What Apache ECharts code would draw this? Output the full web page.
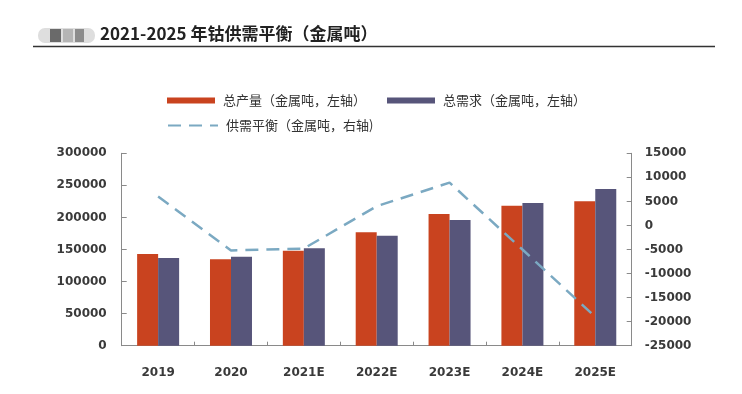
<!DOCTYPE html>
<html><head><meta charset="utf-8">
<script src="https://cdn.jsdelivr.net/npm/echarts@6/dist/echarts.min.js"></script>
<style>html,body{margin:0;padding:0;background:#fff}#c{width:742px;height:394px}</style>
</head><body><div id="c"></div>
<script>
const categories = ['2019','2020','2021E','2022E','2023E','2024E','2025E'];
const production = [143000, 134700, 148100, 176800, 205400, 218300, 225200];
const demand = [136700, 138800, 151900, 171500, 196000, 222500, 244300];
const balance = [6000, -5200, -4800, 4000, 8900, -5000, -19000];
const leftTicks = {min: 0, max: 300000, interval: 50000};
const rightTicks = {min: -25000, max: 15000, interval: 5000};
const names = ['总产量（金属吨，左轴）', '总需求（金属吨，左轴）', '供需平衡（金属吨，右轴)'];
const titleText = '2021-2025 年钴供需平衡（金属吨）';

const chart = echarts.init(document.getElementById('c'), null, {renderer: 'canvas'});
const RED = '#c9431f', PURPLE = '#57557a', BLUE = '#7ba9c2';
const fmt = v => String(v);
const axisLabel = {fontFamily: 'DejaVu Sans', fontSize: 12, fontWeight: 'bold', color: '#3a3a3a', formatter: fmt};
const legendText = {fontFamily: 'Noto Sans CJK SC', fontSize: 13, color: '#333', padding: [0,0,0,3]};
chart.setOption({
  animation: false,
  graphic: [
    {type: 'rect', shape: {x: 38, y: 28, width: 57, height: 15, r: 7}, style: {fill: '#dedede'}},
    {type: 'rect', shape: {x: 50, y: 29, width: 11, height: 13}, style: {fill: '#6a6a6a'}},
    {type: 'rect', shape: {x: 63, y: 29, width: 10, height: 13}, style: {fill: '#b5b5b5'}},
    {type: 'rect', shape: {x: 75, y: 29, width: 9, height: 13}, style: {fill: '#8c8c8c'}},
    {type: 'text', left: 100, top: 25, style: {text: titleText, font: 'bold 17px "Noto Sans CJK SC"', fill: '#222'}},
    {type: 'line', shape: {x1: 33, y1: 46.5, x2: 715, y2: 46.5}, style: {stroke: '#333', lineWidth: 1.5}}
  ],
  legend: [
    {data: [names[0]], icon: 'rect', left: 162, top: 89, itemWidth: 48, itemHeight: 6, textStyle: legendText},
    {data: [names[1]], icon: 'rect', left: 382, top: 89, itemWidth: 48, itemHeight: 6, textStyle: legendText},
    {data: [{name: names[2], itemStyle: {opacity: 0}}], left: 162, top: 114, itemWidth: 50, itemHeight: 8, textStyle: legendText}
  ],
  grid: {left: 121.7, right: 110.3, top: 153.3, bottom: 48.3},
  xAxis: {
    type: 'category', data: categories,
    axisLine: {lineStyle: {color: '#8a8a8a', width: 1}},
    axisTick: {show: true, inside: true, length: 4, lineStyle: {color: '#8a8a8a'}},
    axisLabel: Object.assign({}, axisLabel, {margin: 21, formatter: null})
  },
  yAxis: [
    {type: 'value', min: leftTicks.min, max: leftTicks.max, interval: leftTicks.interval,
     axisLine: {show: true, lineStyle: {color: '#8a8a8a'}},
     axisTick: {show: true, inside: true, length: 5, lineStyle: {color: '#8a8a8a'}},
     splitLine: {show: false},
     axisLabel: Object.assign({margin: 15}, axisLabel)},
    {type: 'value', min: rightTicks.min, max: rightTicks.max, interval: rightTicks.interval,
     position: 'right',
     axisLine: {show: true, lineStyle: {color: '#8a8a8a'}},
     axisTick: {show: true, inside: true, length: 5, lineStyle: {color: '#8a8a8a'}},
     splitLine: {show: false},
     axisLabel: Object.assign({margin: 13}, axisLabel)}
  ],
  series: [
    {name: names[0], type: 'bar', data: production, barWidth: 21, barGap: '0%', itemStyle: {color: RED}},
    {name: names[1], type: 'bar', data: demand, barWidth: 21, barGap: '0%', itemStyle: {color: PURPLE}},
    {name: names[2], type: 'line', yAxisIndex: 1, data: balance, symbol: 'none',
     lineStyle: {color: BLUE, width: 2.5, type: [13, 8]}, itemStyle: {color: BLUE}, z: 5}
  ]
});
</script></body></html>
